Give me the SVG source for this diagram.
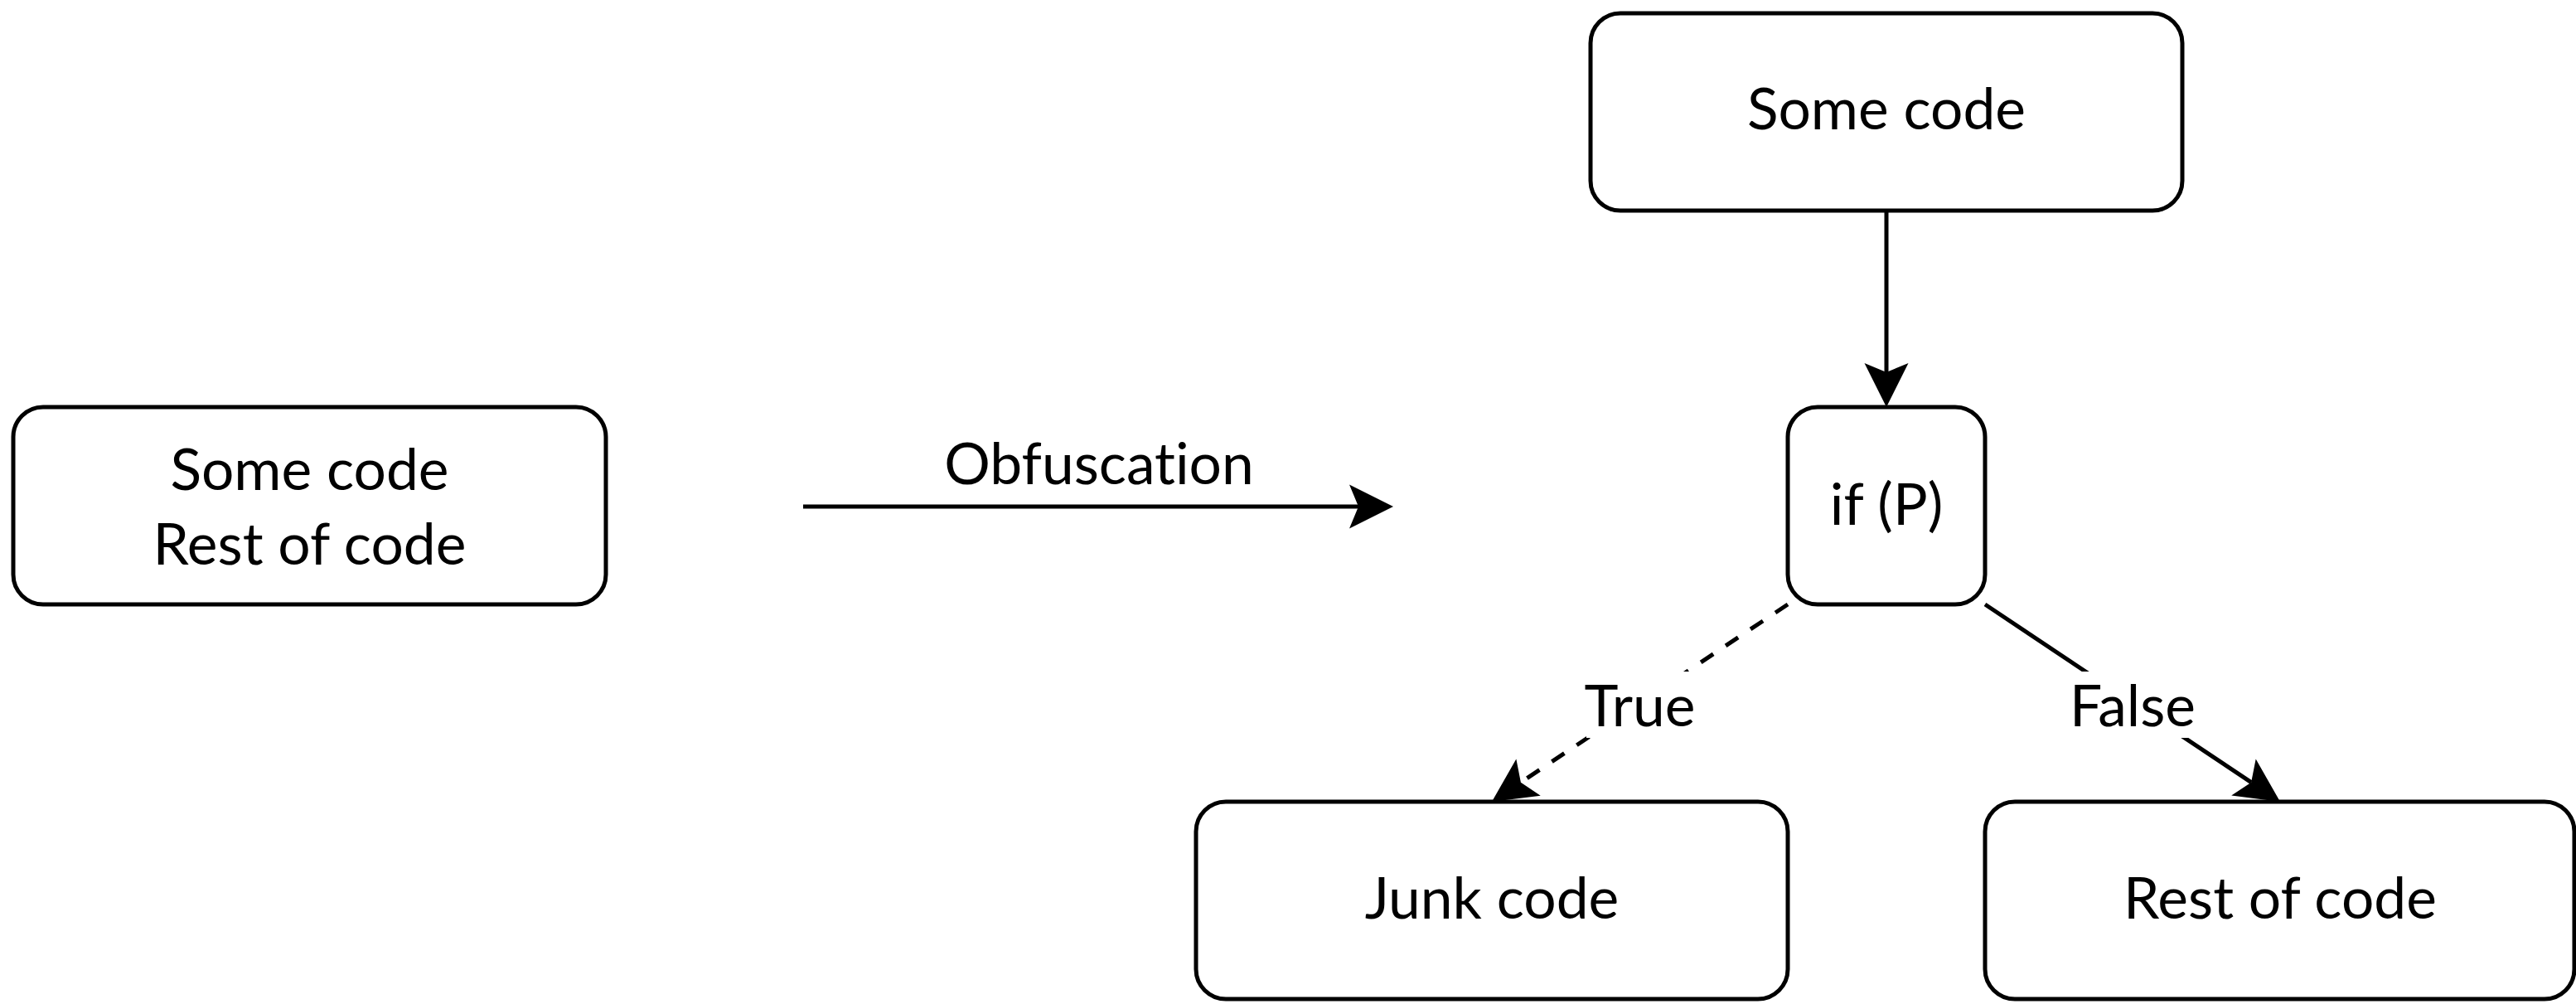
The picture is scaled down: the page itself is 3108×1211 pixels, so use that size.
<svg xmlns="http://www.w3.org/2000/svg" width="3108" height="1211" viewBox="0 0 3108 1211">
  <style>
    .box { fill: #ffffff; stroke: #000000; stroke-width: 5; }
    .lbl { font-family: Lato, "Liberation Sans", sans-serif; font-size: 69.5px; fill: #000000; text-anchor: middle; font-variant-ligatures: none; }
    .edge { fill: none; stroke: #000000; stroke-width: 5; }
    .dash { stroke-dasharray: 18 18; }
    .bg { fill: #ffffff; stroke: none; }
  </style>
  <defs>
    <marker id="arrow" markerUnits="userSpaceOnUse" viewBox="-12 -28 56 56" refX="0" refY="0" markerWidth="56" markerHeight="56" orient="auto" overflow="visible">
      <path d="M42,0 L-11,-26.5 L0,0 L-11,26.5 Z" fill="#000000" stroke="none"/>
    </marker>
  </defs>
  <rect width="3108" height="1211" fill="#ffffff"/>

  <g id="connectors">
    <g id="edge-obfuscation">
      <path class="edge" d="M969,611 L1639,611" marker-end="url(#arrow)"/>
      <text class="lbl" x="1326" y="584">Obfuscation</text>
    </g>
    <g id="edge-some-if">
      <path class="edge" d="M2276,254 L2276,449" marker-end="url(#arrow)"/>
    </g>
    <g id="edge-true">
      <path class="edge dash" d="M2157,729 L1834.9,943.7" marker-end="url(#arrow)"/>
      <rect class="bg" x="1914" y="810" width="129" height="80"/>
      <text class="lbl" x="1978.5" y="876">True</text>
    </g>
    <g id="edge-false">
      <path class="edge" d="M2395,729 L2716.1,943.7" marker-end="url(#arrow)"/>
      <rect class="bg" x="2499" y="810" width="148" height="80"/>
      <text class="lbl" x="2573" y="876">False</text>
    </g>
  </g>

  <g id="node-original">
    <rect class="box" x="16" y="491" width="715" height="238" rx="36" ry="36"/>
    <text class="lbl" x="373.5" y="591">Some code</text>
    <text class="lbl" x="373.5" y="681">Rest of code</text>
  </g>
  <g id="node-some-code">
    <rect class="box" x="1919" y="16" width="714" height="238" rx="36" ry="36"/>
    <text class="lbl" x="2276" y="156">Some code</text>
  </g>
  <g id="node-if">
    <rect class="box" x="2157" y="491" width="238" height="238" rx="36" ry="36"/>
    <text class="lbl" x="2276" y="633">if (P)</text>
  </g>
  <g id="node-junk">
    <rect class="box" x="1443" y="967" width="714" height="238" rx="36" ry="36"/>
    <text class="lbl" x="1800" y="1108">Junk code</text>
  </g>
  <g id="node-rest">
    <rect class="box" x="2395" y="967" width="711" height="238" rx="36" ry="36"/>
    <text class="lbl" x="2751" y="1108">Rest of code</text>
  </g>
</svg>
